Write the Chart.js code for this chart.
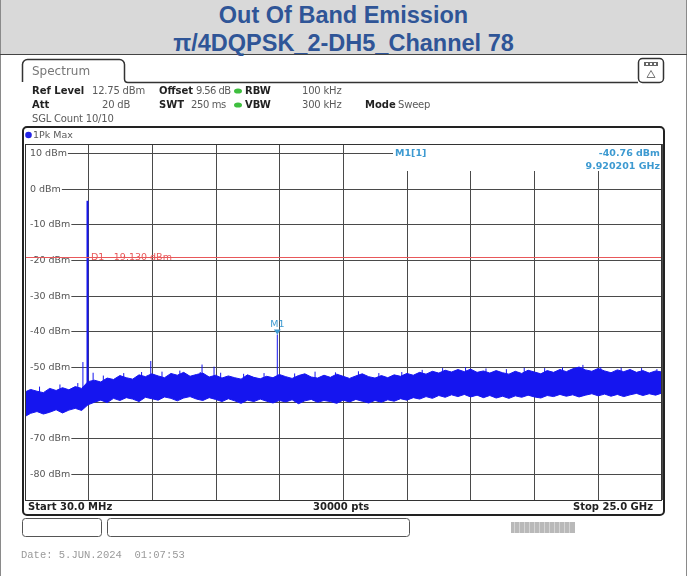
<!DOCTYPE html>
<html>
<head>
<meta charset="utf-8">
<title>Out Of Band Emission</title>
<script src="https://cdn.jsdelivr.net/npm/chart.js@4.4.1/dist/chart.umd.min.js"></script>
<style>
  html, body { margin: 0; padding: 0; background: #fff; }
  #wrap { position: relative; width: 687px; height: 576px; overflow: hidden; background: #fff;
          box-shadow: inset 1px 0 #8a8a8a, inset -1px 0 #8a8a8a; }
  #head { position: absolute; left: 0; top: 0; width: 687px; height: 54px; background: #d9d9d9;
          border-bottom: 1px solid #444; box-shadow: inset 1px 0 #8a8a8a, inset -1px 0 #8a8a8a; }
  .ttl { position: absolute; left: 0; width: 687px; text-align: center; line-height: 1;
         font: bold 23.5px "Liberation Sans", Arial, sans-serif; color: #2f5597; }
  canvas { position: absolute; left: 0; top: 0; }
  .t { position: absolute; font-family: "DejaVu Sans", sans-serif; font-size: 10px; line-height: 1;
       white-space: pre; color: #5a5a5a; }
  .v { letter-spacing: -0.2px; }
  .b { font-weight: bold; color: #222; }
  .mk { color: #3d9ad1; font-weight: bold; font-size: 9.5px; }
  .date { position: absolute; left: 21px; top: 550px; font: 10.5px "Liberation Mono", monospace;
          color: #9a9a9a; white-space: pre; line-height: 1; }
</style>
</head>
<body>
<div id="wrap">
  <div id="head">
    <div class="ttl" style="top:2px">Out Of Band Emission</div>
    <div class="ttl" style="top:30px">π/4DQPSK_2-DH5_Channel 78</div>
  </div>
  <canvas id="spectrum" width="687" height="576"></canvas>

  <div class="t" style="left:32px;top:65px;font-size:12px;color:#777">Spectrum</div>

  <div class="t b" style="left:32px;top:86px">Ref Level</div>
  <div class="t v" style="left:92px;top:86px">12.75 dBm</div>
  <div class="t b" style="left:159px;top:86px">Offset</div>
  <div class="t v" style="left:196px;top:86px;letter-spacing:-0.6px">9.56 dB</div>
  <div class="t b" style="left:245px;top:86px">RBW</div>
  <div class="t v" style="left:302px;top:86px">100 kHz</div>

  <div class="t b" style="left:32px;top:100px">Att</div>
  <div class="t v" style="left:102px;top:100px">20 dB</div>
  <div class="t b" style="left:159px;top:100px">SWT</div>
  <div class="t v" style="left:191px;top:100px;letter-spacing:-0.4px">250 ms</div>
  <div class="t b" style="left:245px;top:100px">VBW</div>
  <div class="t v" style="left:302px;top:100px">300 kHz</div>
  <div class="t b" style="left:365px;top:100px">Mode</div>
  <div class="t v" style="left:398px;top:100px">Sweep</div>

  <div class="t v" style="left:32px;top:114px">SGL Count 10/10</div>
  <div class="t" style="left:33px;top:130px;font-size:9.5px">1Pk Max</div>

  <div class="t mk" style="left:395px;top:148px">M1[1]</div>
  <div class="t mk" style="right:27px;top:148px">-40.76 dBm</div>
  <div class="t mk" style="right:27px;top:161px">9.920201 GHz</div>

  <div class="t b" style="left:28px;top:502px">Start 30.0 MHz</div>
  <div class="t b" style="left:313px;top:502px">30000 pts</div>
  <div class="t b" style="right:34px;top:502px">Stop 25.0 GHz</div>

  <div class="date">Date: 5.JUN.2024  01:07:53</div>
</div>

<script>
// Sweep range and axis divisions
const startGHz = 0.03;
const stopGHz = 25.0;
const xGridGHz = [0.03, 2.527, 5.024, 7.521, 10.018, 12.515, 15.012, 17.509, 20.006, 22.503, 25.0];
const yTicks = [10, 0, -10, -20, -30, -40, -50, -60, -70, -80];
const refLevel = 12.75;
const bottomLevel = -87.25;

// Noise floor envelope of the 1Pk Max trace
const noiseFreq = [0.03, 0.25, 0.5, 0.75, 1, 1.25, 1.5, 1.75, 2, 2.25, 2.5, 2.75, 3, 3.25, 3.5, 3.75,
  4, 4.25, 4.5, 4.75, 5, 5.25, 5.5, 5.75, 6, 6.25, 6.5, 6.75, 7, 7.25, 7.5, 7.75, 8, 8.25, 8.5, 8.75,
  9, 9.25, 9.5, 9.75, 10, 10.25, 10.5, 10.75, 11, 11.25, 11.5, 11.75, 12, 12.25, 12.5, 12.75, 13, 13.25,
  13.5, 13.75, 14, 14.25, 14.5, 14.75, 15, 15.25, 15.5, 15.75, 16, 16.25, 16.5, 16.75, 17, 17.25, 17.5,
  17.75, 18, 18.25, 18.5, 18.75, 19, 19.25, 19.5, 19.75, 20, 20.25, 20.5, 20.75, 21, 21.25, 21.5, 21.75,
  22, 22.25, 22.5, 22.75, 23, 23.25, 23.5, 23.75, 24, 24.25, 24.5, 24.75, 25];
const noiseTop = [-56.9, -56.2, -56.7, -57.1, -55.9, -56.5, -55.7, -56.3, -55.4, -55.9, -54.0, -53.6,
  -54.1, -53.0, -53.4, -52.3, -52.9, -53.3, -52.1, -52.6, -51.8, -52.4, -52.9, -51.7, -52.2, -51.4,
  -52.5, -52.0, -51.6, -52.7, -52.2, -53.0, -52.4, -52.9, -53.3, -52.1, -52.8, -53.2, -52.5, -52.9,
  -52.0, -52.6, -53.1, -52.3, -51.8, -52.7, -53.0, -52.2, -52.8, -51.9, -52.5, -53.1, -52.4, -51.8,
  -52.6, -53.0, -52.3, -52.9, -52.1, -52.5, -51.7, -52.2, -51.4, -51.9, -51.1, -51.6, -50.8, -51.3,
  -50.6, -51.2, -50.5, -51.4, -51.0, -51.6, -50.9, -51.5, -51.9, -51.1, -51.7, -50.8, -51.3, -51.8,
  -50.9, -51.4, -50.6, -51.2, -50.4, -49.9, -50.7, -51.1, -50.3, -51.0, -51.5, -50.7, -51.2, -50.6,
  -51.4, -50.9, -51.6, -51.0, -51.3];
const noiseBottom = [-63.8, -62.9, -62.4, -63.1, -62.6, -61.9, -62.8, -62.0, -61.5, -62.1, -60.5, -59.8,
  -59.2, -59.9, -58.7, -59.3, -58.5, -58.9, -59.6, -58.4, -58.8, -59.2, -58.3, -58.7, -59.4, -58.6,
  -58.2, -58.9, -59.3, -58.5, -59.0, -59.6, -58.8, -59.4, -60.1, -59.2, -59.6, -58.9, -59.5, -60.0,
  -59.3, -59.7, -59.1, -60.2, -59.4, -59.0, -59.8, -59.3, -59.6, -60.1, -59.2, -59.7, -59.0, -59.5,
  -60.0, -59.3, -59.8, -59.1, -59.5, -58.8, -59.2, -58.5, -58.9, -58.2, -58.7, -57.9, -58.4, -57.7,
  -58.2, -57.6, -58.3, -57.8, -58.5, -57.9, -58.6, -58.1, -58.7, -58.0, -58.4, -57.8, -58.3, -58.6,
  -57.9, -58.2, -57.6, -58.1, -57.7, -58.3, -57.8, -57.4, -58.0, -57.5, -58.1, -57.6, -58.2, -57.7,
  -57.3, -57.9, -57.4, -57.8, -57.2];

// Single noise peaks poking above the floor
const hairFreq = [0.6, 1.4, 2.1, 3.1, 3.9, 4.6, 5.4, 6.1, 6.9, 7.7, 8.6, 9.4, 10.6, 11.4, 12.2, 13.1,
  13.9, 14.8, 15.6, 16.4, 17.3, 18.1, 18.9, 19.6, 20.4, 21.1, 21.9, 22.6, 23.4, 24.2, 24.8];
const hairPeak = [-55.4, -54.8, -54.4, -52.3, -51.6, -51.3, -51.2, -50.9, -51.3, -51.5, -51.8, -51.6,
  -51.7, -51.2, -51.4, -51.1, -51.6, -51.3, -50.7, -50.2, -49.9, -50.3, -50.5, -50.1, -50.2, -50.0,
  -49.3, -49.9, -50.1, -50.2, -50.5];
const hairBase = -57;

// Discrete spurs sticking out of the floor
const spurFreq = [2.30, 2.70, 4.96, 6.97, 7.44, 9.92];
const spurPeak = [-48.5, -51.5, -48.2, -49.2, -49.8, -40.76];
const spurBase = [-60, -58, -58, -58, -58, -58];

// Carrier (channel 78)
const carrierFreq = 2.48;
const carrierPeak = -3.2;
const carrierBase = -59;

// Marker and display line
const markerFreq = 9.92;
const markerLevel = -40.76;
const displayLine = -19.13;

const traceBlue = '#1515ef';
const gridColor = '#4a4a4a';

const topPts = noiseFreq.map((f, i) => ({ x: f, y: noiseTop[i] }));
const bottomPts = noiseFreq.map((f, i) => ({ x: f, y: noiseBottom[i] }));
const spurPts = [];
spurFreq.forEach(function (f, i) {
    spurPts.push({ x: f, y: spurBase[i] }, { x: f, y: spurPeak[i] }, { x: f, y: null });
});
hairFreq.forEach(function (f, i) {
    spurPts.push({ x: f, y: hairBase }, { x: f, y: hairPeak[i] }, { x: f, y: null });
});

// Instrument frame: tab, header boxes, soft keys
const framePlugin = {
    id: 'frame',
    beforeDraw: function (chart) {
        const ctx = chart.ctx;
        ctx.save();
        ctx.strokeStyle = '#333';
        ctx.lineWidth = 1.5;
        // Spectrum tab
        ctx.beginPath();
        ctx.moveTo(22.5, 82);
        ctx.lineTo(22.5, 64);
        ctx.arcTo(22.5, 59.5, 27.5, 59.5, 5);
        ctx.lineTo(119.5, 59.5);
        ctx.arcTo(124.5, 59.5, 124.5, 64.5, 5);
        ctx.lineTo(124.5, 79);
        ctx.quadraticCurveTo(124.5, 82.5, 128, 82.5);
        ctx.lineTo(638, 82.5);
        ctx.stroke();
        // icon box
        ctx.beginPath();
        ctx.roundRect(638.5, 58.5, 25, 24, 4);
        ctx.stroke();
        ctx.fillStyle = '#666';
        ctx.fillRect(644, 62, 14, 4);
        ctx.fillStyle = '#fff';
        [646, 650, 654].forEach(function (x) { ctx.fillRect(x, 63, 2, 2); });
        ctx.strokeStyle = '#777';
        ctx.lineWidth = 1;
        ctx.beginPath();
        ctx.moveTo(651, 70.5); ctx.lineTo(655, 77.5); ctx.lineTo(647, 77.5); ctx.closePath();
        ctx.stroke();
        // green coupling dots
        ctx.fillStyle = '#3fbf3f';
        [91, 105].forEach(function (y) {
            ctx.beginPath();
            ctx.ellipse(238, y, 4, 2.6, 0, 0, Math.PI * 2);
            ctx.fill();
        });
        // diagram box
        ctx.strokeStyle = '#222';
        ctx.lineWidth = 2;
        ctx.beginPath();
        ctx.roundRect(23, 127, 641, 388, 4);
        ctx.stroke();
        // trace indicator
        ctx.fillStyle = '#2323e6';
        ctx.beginPath();
        ctx.arc(28.5, 135, 3.3, 0, Math.PI * 2);
        ctx.fill();
        // soft key boxes
        ctx.strokeStyle = '#555';
        ctx.lineWidth = 1;
        ctx.beginPath();
        ctx.roundRect(22.5, 518.5, 79, 18, 3);
        ctx.roundRect(107.5, 518.5, 302, 18, 3);
        ctx.stroke();
        ctx.fillStyle = '#b9b9b9';
        ctx.fillRect(511, 522, 64, 11);
        ctx.fillStyle = '#d4d4d4';
        for (let x = 514; x < 574; x += 5) ctx.fillRect(x, 522, 1, 11);
        ctx.restore();
    },
    beforeDatasetsDraw: function (chart) {
        // marker info field hides the grid
        const ctx = chart.ctx;
        ctx.save();
        ctx.fillStyle = '#fff';
        ctx.fillRect(393, 145, 268, 26);
        ctx.restore();
    },
    afterDatasetsDraw: function (chart) {
        const ctx = chart.ctx;
        const x = chart.scales.x, y = chart.scales.y;
        const area = chart.chartArea;
        ctx.save();
        // display line D1
        const yd = Math.round(y.getPixelForValue(displayLine)) + 0.5;
        ctx.strokeStyle = '#e8585a';
        ctx.lineWidth = 1;
        ctx.beginPath();
        ctx.moveTo(area.left, yd);
        ctx.lineTo(area.right, yd);
        ctx.stroke();
        ctx.fillStyle = '#e8585a';
        ctx.font = '9.5px "DejaVu Sans"';
        ctx.textBaseline = 'middle';
        ctx.fillText('D1  -19.130 dBm', 91, yd + 0.5);
        // marker M1
        const mx = x.getPixelForValue(markerFreq);
        const my = y.getPixelForValue(markerLevel);
        ctx.fillStyle = '#3d9ad1';
        ctx.beginPath();
        ctx.moveTo(mx, my);
        ctx.lineTo(mx - 3.5, my - 5);
        ctx.lineTo(mx + 3.5, my - 5);
        ctx.closePath();
        ctx.fill();
        ctx.font = '9.5px "DejaVu Sans"';
        ctx.textAlign = 'center';
        ctx.textBaseline = 'alphabetic';
        ctx.fillText('M1', mx, my - 7);
        // diagram border
        ctx.strokeStyle = '#333';
        ctx.lineWidth = 1;
        ctx.strokeRect(area.left + 0.5, area.top + 0.5, area.right - area.left - 1, area.bottom - area.top);
        ctx.restore();
    }
};

new Chart(document.getElementById('spectrum'), {
    type: 'line',
    data: {
        datasets: [{
            data: topPts,
            borderColor: traceBlue,
            borderWidth: 1,
            fill: false
        }, {
            data: bottomPts,
            borderColor: traceBlue,
            borderWidth: 1,
            backgroundColor: traceBlue,
            fill: '-1'
        }, {
            data: spurPts,
            borderColor: traceBlue,
            borderWidth: 1,
            spanGaps: false,
            fill: false
        }, {
            data: [{ x: carrierFreq, y: carrierBase }, { x: carrierFreq, y: carrierPeak }],
            borderColor: traceBlue,
            borderWidth: 2,
            fill: false
        }]
    },
    options: {
        responsive: false,
        animation: false,
        devicePixelRatio: 1,
        // the mirrored y axis still takes 10 px, so the left padding is 10 less
        layout: { padding: { left: 15, right: 25, top: 144, bottom: 76 } },
        elements: { point: { radius: 0 }, line: { tension: 0 } },
        plugins: { legend: { display: false }, tooltip: { enabled: false } },
        scales: {
            x: {
                type: 'linear',
                min: startGHz,
                max: stopGHz,
                afterBuildTicks: function (s) { s.ticks = xGridGHz.map(v => ({ value: v })); },
                ticks: { display: false },
                grid: { color: gridColor, drawTicks: false },
                border: { display: false }
            },
            y: {
                min: bottomLevel,
                max: refLevel,
                afterBuildTicks: function (s) { s.ticks = yTicks.map(v => ({ value: v })); },
                ticks: {
                    mirror: true,
                    padding: 5,
                    color: '#555',
                    font: { family: 'DejaVu Sans', size: 9.5 },
                    callback: v => v + ' dBm',
                    showLabelBackdrop: true,
                    backdropColor: '#fff',
                    backdropPadding: { left: 4, right: 1, top: 0, bottom: 0 }
                },
                grid: { color: gridColor, drawTicks: false },
                border: { display: false }
            }
        }
    },
    plugins: [framePlugin]
});
</script>
</body>
</html>
